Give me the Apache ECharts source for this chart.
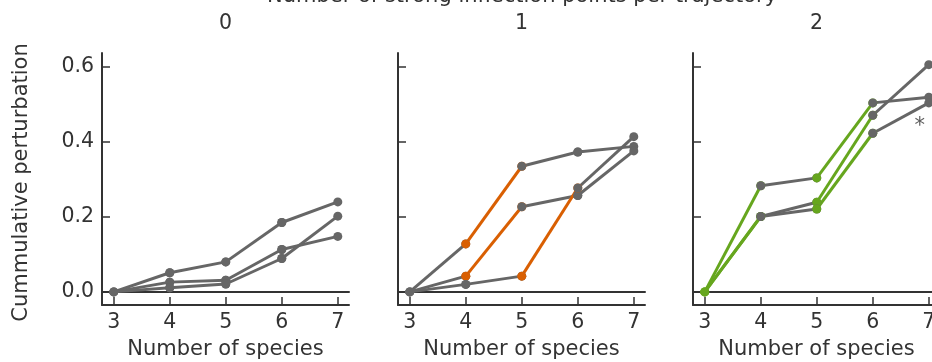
<!DOCTYPE html>
<html>
<head>
<meta charset="utf-8">
<script src="https://cdn.jsdelivr.net/npm/echarts@6/dist/echarts.min.js"></script>
<style>
  html, body { margin: 0; padding: 0; background: #fff; }
  #chart { width: 932px; height: 362px; }
</style>
</head>
<body>
<div id="chart"></div>
<script>
// 数据
var species = [3, 4, 5, 6, 7];
var xTicks = [3, 4, 5, 6, 7];
var yTicks = [0, 0.2, 0.4, 0.6];
var facetLabels = ['0', '1', '2'];

// 每个面板的轨迹 (y 值对应 species)
var p0a = [0, 0.051, 0.080, 0.185, 0.240];
var p0b = [0, 0.026, 0.031, 0.113, 0.148];
var p0c = [0, 0.011, 0.021, 0.089, 0.202];

var p1a = [0, 0.128, 0.335, 0.373, 0.388];
var p1b = [0, 0.042, 0.227, 0.257, 0.376];
var p1c = [0, 0.020, 0.042, 0.277, 0.414];

var p2a = [0, 0.283, 0.304, 0.504, 0.519];
var p2b = [0, 0.201, 0.239, 0.471, 0.606];
var p2c = [0, 0.201, 0.221, 0.423, 0.504];

// 强拐点段 (1 = 高亮)
var p0aHi = [0, 0, 0, 0], p0bHi = [0, 0, 0, 0], p0cHi = [0, 0, 0, 0];
var p1aHi = [0, 1, 0, 0], p1bHi = [0, 1, 0, 0], p1cHi = [0, 0, 1, 0];
var p2aHi = [1, 0, 1, 0], p2bHi = [1, 0, 1, 0], p2cHi = [1, 0, 1, 0];

// 星号标注
var starPoint = [6.84, 0.44];

var panels = [
  { lines: [p0a, p0b, p0c], hi: [p0aHi, p0bHi, p0cHi], color: '#d95f02' },
  { lines: [p1a, p1b, p1c], hi: [p1aHi, p1bHi, p1cHi], color: '#d95f02' },
  { lines: [p2a, p2b, p2c], hi: [p2aHi, p2bHi, p2cHi], color: '#66a61e' }
];

var gray = '#666666';
var ink = '#333333';
var fontFam = 'DejaVu Sans';
var lefts = [102, 398, 693];

var grids = [], xAxes = [], yAxes = [], series = [];

panels.forEach(function(p, i) {
  grids.push({ left: lefts[i], top: 53, width: 247, height: 252, outerBoundsMode: 'none' });

  // 底部 x 轴
  xAxes.push({
    type: 'value', gridIndex: i, min: 2.79, max: 7.2,
    name: 'Number of species', nameLocation: 'middle', nameGap: 34,
    nameTextStyle: { fontFamily: fontFam, fontSize: 21, color: ink },
    axisLine: { show: true, onZero: false, lineStyle: { color: ink, width: 2 } },
    axisTick: { show: true, inside: true, length: 8, customValues: xTicks, lineStyle: { color: ink, width: 1.5 } },
    axisLabel: { show: true, margin: 7, customValues: xTicks, fontFamily: fontFam, fontSize: 20.5, color: ink },
    splitLine: { show: false }
  });
  // 顶部分面条
  xAxes.push({
    type: 'value', gridIndex: i, position: 'top', offset: 16, min: 2.79, max: 7.2,
    name: facetLabels[i], nameLocation: 'middle', nameGap: 3,
    nameTextStyle: { fontFamily: fontFam, fontSize: 20.5, color: ink },
    axisLine: { show: true, lineStyle: { color: ink, width: 2 } },
    axisTick: { show: false }, axisLabel: { show: false }, splitLine: { show: false }
  });

  yAxes.push({
    type: 'value', gridIndex: i, min: -0.035, max: 0.637,
    name: i === 0 ? 'Cummulative perturbation' : '', nameLocation: 'middle', nameGap: 70,
    nameTextStyle: { fontFamily: fontFam, fontSize: 21, color: ink, padding: [0, 7, 0, 0] },
    axisLine: { show: true, onZero: false, lineStyle: { color: ink, width: 2 } },
    axisTick: { show: true, inside: true, length: 8, customValues: yTicks, lineStyle: { color: ink, width: 1.5 } },
    axisLabel: {
      show: i === 0, margin: 8, customValues: yTicks, fontFamily: fontFam, fontSize: 20.5, color: ink,
      formatter: function(v) { return v.toFixed(1); }
    },
    splitLine: { show: false }
  });

  // 逐段画线
  p.lines.forEach(function(vals, j) {
    for (var k = 0; k < vals.length - 1; k++) {
      var c = p.hi[j][k] ? p.color : gray;
      series.push({
        type: 'line', xAxisIndex: i * 2, yAxisIndex: i,
        data: [[species[k], vals[k]], [species[k + 1], vals[k + 1]]],
        symbol: 'circle', symbolSize: 9, showSymbol: true,
        lineStyle: { color: c, width: 3 }, itemStyle: { color: c },
        animation: false, silent: true
      });
    }
  });
});

// 星号
series.push({
  type: 'scatter', xAxisIndex: 4, yAxisIndex: 2, data: [starPoint],
  symbolSize: 1, itemStyle: { color: 'rgba(0,0,0,0)' },
  label: { show: true, position: 'inside', formatter: '*', fontFamily: fontFam, fontSize: 21, color: ink },
  animation: false, silent: true
});

var myChart = echarts.init(document.getElementById('chart'), null, { renderer: 'canvas' });
var option = {
  backgroundColor: '#fff',
  animation: false,
  grid: grids,
  xAxis: xAxes,
  yAxis: yAxes,
  graphic: [{
    type: 'text', x: 522, y: -3,
    style: {
      text: 'Number of strong inflection points per trajectory',
      font: '21px "DejaVu Sans"', fill: ink,
      textAlign: 'center', textVerticalAlign: 'middle'
    }
  }],
  series: series
};
myChart.setOption(option);
</script>
</body>
</html>
